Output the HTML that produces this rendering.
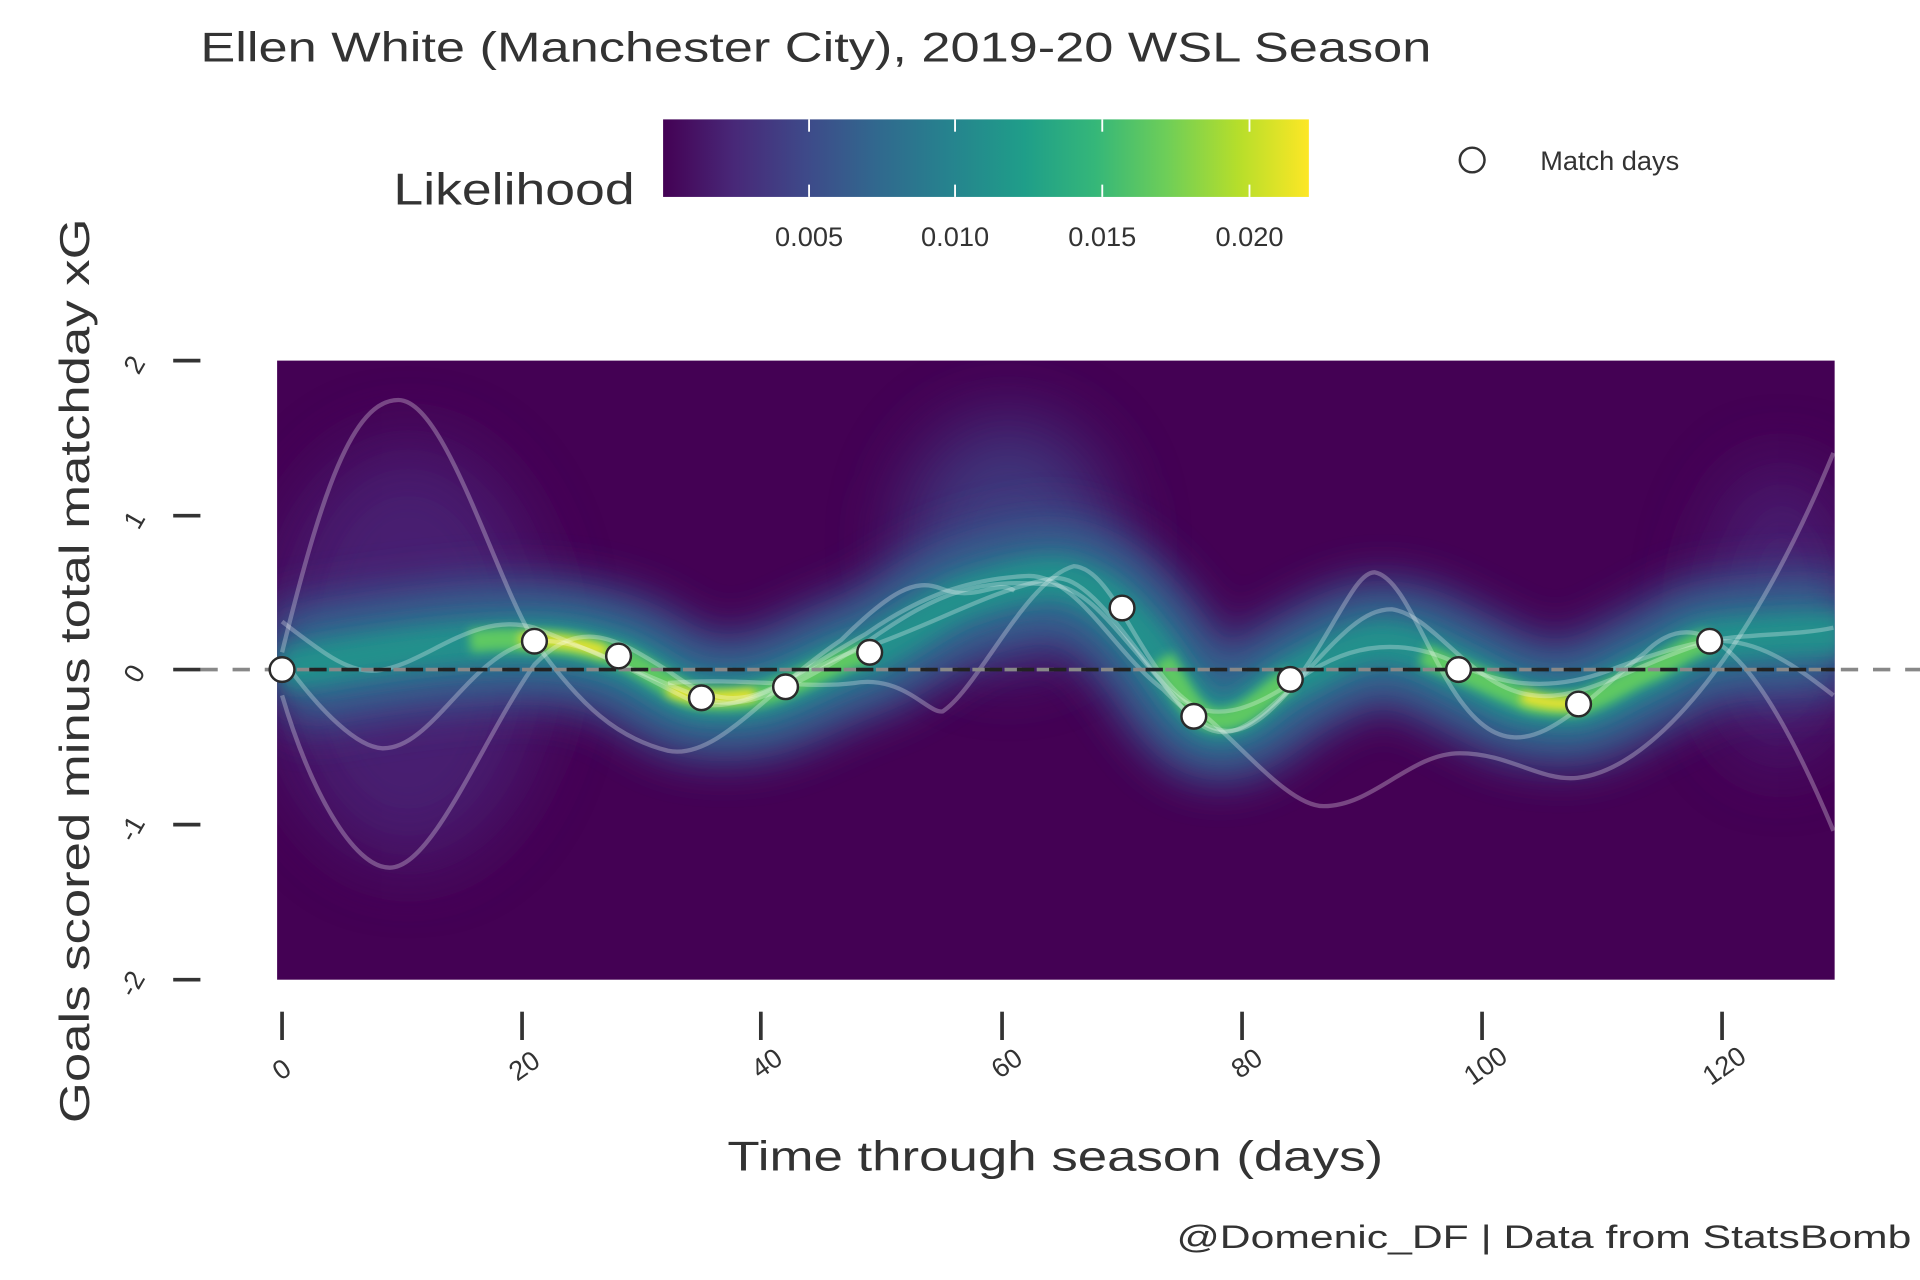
<!DOCTYPE html>
<html><head><meta charset="utf-8"><style>html,body{margin:0;padding:0;background:#fff}svg{display:block}</style></head>
<body>
<svg width="1920" height="1280" viewBox="0 0 1552 1040" preserveAspectRatio="none" xmlns="http://www.w3.org/2000/svg" font-family="Liberation Sans, sans-serif" fill="#333">
<defs>
<linearGradient id="vir" x1="0" x2="1" y1="0" y2="0">
<stop offset="0" stop-color="#440154"/><stop offset="0.11" stop-color="#482878"/><stop offset="0.22" stop-color="#3e4989"/><stop offset="0.33" stop-color="#31688e"/><stop offset="0.44" stop-color="#26828e"/><stop offset="0.56" stop-color="#1f9e89"/><stop offset="0.67" stop-color="#35b779"/><stop offset="0.78" stop-color="#6ece58"/><stop offset="0.89" stop-color="#b5de2b"/><stop offset="1" stop-color="#fde725"/>
</linearGradient>
<clipPath id="cp"><rect x="224" y="293" width="1259" height="503"/></clipPath>
<filter id="b30" filterUnits="userSpaceOnUse" x="0" y="0" width="1552" height="1040"><feGaussianBlur stdDeviation="30"/></filter>
<filter id="b18" filterUnits="userSpaceOnUse" x="0" y="0" width="1552" height="1040"><feGaussianBlur stdDeviation="18"/></filter>
<filter id="b8" filterUnits="userSpaceOnUse" x="0" y="0" width="1552" height="1040"><feGaussianBlur stdDeviation="8"/></filter>
<filter id="b4" filterUnits="userSpaceOnUse" x="0" y="0" width="1552" height="1040"><feGaussianBlur stdDeviation="4"/></filter>
</defs>
<text x="162" y="50" font-size="34" textLength="995" lengthAdjust="spacingAndGlyphs">Ellen White (Manchester City), 2019-20 WSL Season</text>
<text x="318" y="166" font-size="36" textLength="195" lengthAdjust="spacingAndGlyphs">Likelihood</text>
<rect x="536" y="97" width="522" height="63" fill="url(#vir)"/>
<g stroke="#fff" stroke-width="1.5"><line x1="654" y1="97" x2="654" y2="107"/><line x1="654" y1="150" x2="654" y2="160"/><line x1="772" y1="97" x2="772" y2="107"/><line x1="772" y1="150" x2="772" y2="160"/><line x1="891" y1="97" x2="891" y2="107"/><line x1="891" y1="150" x2="891" y2="160"/><line x1="1010" y1="97" x2="1010" y2="107"/><line x1="1010" y1="150" x2="1010" y2="160"/></g>
<g font-size="22" text-anchor="middle"><text x="654" y="200">0.005</text><text x="772" y="200">0.010</text><text x="891" y="200">0.015</text><text x="1010" y="200">0.020</text></g>
<circle cx="1190" cy="130" r="10" fill="#fff" stroke="#333" stroke-width="2"/>
<text x="1245" y="138" font-size="22">Match days</text>

<rect x="224" y="293" width="1259" height="503" fill="#440154"/>
<g clip-path="url(#cp)">
<ellipse cx="815" cy="440" rx="85" ry="100" fill="#3e4989" opacity="0.75" filter="url(#b30)"/>
<ellipse cx="330" cy="530" rx="110" ry="170" fill="#482878" opacity="0.8" filter="url(#b30)"/>
<ellipse cx="1440" cy="500" rx="60" ry="120" fill="#482878" opacity="0.8" filter="url(#b30)"/>
<path id="mean" d="M228,544 C300,530 380,520 432,521 C470,522 480,528 500,533 C530,545 545,565 567,567 C600,570 620,565 635,558 C660,548 680,535 703,530 C740,510 760,492 781,485 C810,475 840,468 859,470 C890,478 905,495 926,520 C950,550 965,585 985,585 C1010,585 1025,560 1043,552 C1070,538 1090,525 1111,522 C1140,520 1160,535 1179,544 C1205,556 1220,568 1237,570 C1255,573 1265,573 1276,572 C1300,565 1315,552 1334,545 C1355,535 1365,524 1382,521 C1420,517 1450,515 1490,515" fill="none" stroke="#3b528b" stroke-width="100" filter="url(#b18)"/>
<path d="M228,544 C300,530 380,520 432,521 C470,522 480,528 500,533 C530,545 545,565 567,567 C600,570 620,565 635,558 C660,548 680,535 703,530 C740,510 760,492 781,485 C810,475 840,468 859,470 C890,478 905,495 926,520 C950,550 965,585 985,585 C1010,585 1025,560 1043,552 C1070,538 1090,525 1111,522 C1140,520 1160,535 1179,544 C1205,556 1220,568 1237,570 C1255,573 1265,573 1276,572 C1300,565 1315,552 1334,545 C1355,535 1365,524 1382,521 C1420,517 1450,515 1490,515" fill="none" stroke="#2c728e" stroke-width="55" filter="url(#b18)"/>
<path d="M228,544 C300,530 380,520 432,521 C470,522 480,528 500,533 C530,545 545,565 567,567 C600,570 620,565 635,558 C660,548 680,535 703,530 C740,510 760,492 781,485 C810,475 840,468 859,470 C890,478 905,495 926,520 C950,550 965,585 985,585 C1010,585 1025,560 1043,552 C1070,538 1090,525 1111,522 C1140,520 1160,535 1179,544 C1205,556 1220,568 1237,570 C1255,573 1265,573 1276,572 C1300,565 1315,552 1334,545 C1355,535 1365,524 1382,521 C1420,517 1450,515 1490,515" fill="none" stroke="#21918c" stroke-width="32" filter="url(#b8)"/>
<path d="M380,521 C410,518 420,520 432,521 C470,522 480,528 500,533 C530,545 545,565 567,567 C600,570 620,565 635,558 C660,548 680,535 703,530 M940,535 C955,560 965,585 985,585 C1010,585 1025,560 1043,552 M1150,532 C1170,540 1205,556 1237,570 C1255,573 1265,573 1276,572 C1300,565 1315,552 1334,545 C1355,535 1365,524 1382,521" fill="none" stroke="#5ec962" stroke-width="18" filter="url(#b4)"/>
<path d="M420,519 C440,520 470,522 490,530 M540,560 C560,568 580,568 610,564 M1230,566 C1250,572 1265,573 1280,570" fill="none" stroke="#fde725" stroke-width="9" filter="url(#b4)"/>
<g fill="none" stroke="#fff" stroke-opacity="0.28" stroke-width="3.5">
<path d="M228,530 C260,400 285,325 322,325 C360,325 400,470 432,521 C470,575 500,600 540,610 C580,618 620,560 680,520 C720,480 740,470 760,478 C790,490 805,470 820,480"/>
<path d="M540,555 C600,550 650,560 690,555 C730,548 750,580 762,578 C790,560 830,470 868,460 C900,462 920,540 960,570 C1000,600 1040,655 1070,655 C1110,655 1140,612 1180,612 C1220,612 1245,635 1275,632 C1340,625 1420,520 1482,368"/>
<path d="M228,565 C250,640 285,705 315,705 C350,705 390,600 432,540 C470,500 500,520 540,545 C600,590 620,560 700,515 C750,480 790,470 830,468 C870,466 900,530 940,560 C980,600 1000,610 1043,560 C1080,510 1095,465 1111,465 C1140,470 1160,560 1200,590 C1240,620 1280,570 1330,530 C1380,480 1430,550 1482,675"/>
<path d="M228,535 C260,580 290,608 310,608 C350,608 380,530 432,521 C470,518 500,540 560,570 C600,585 650,540 703,525 C760,505 800,480 850,470 C880,465 910,520 960,580 C990,610 1010,590 1043,560 C1080,520 1100,495 1125,495 C1160,500 1190,560 1240,565 C1280,570 1320,540 1382,521 C1420,518 1450,540 1482,565"/>
<path d="M228,505 C260,530 280,545 300,545 C340,545 380,495 432,510 C470,525 500,540 567,567 C600,580 640,560 703,520 C760,480 790,470 850,475 C880,478 900,510 940,555 C980,600 1020,570 1060,545 C1100,520 1140,520 1180,540 C1220,560 1260,560 1300,545 C1340,530 1370,521 1400,518 C1430,515 1460,515 1482,510"/>
</g>
</g>
<line x1="162" y1="544" x2="1552" y2="544" stroke="#888" stroke-width="3" stroke-dasharray="14,12"/>
<line x1="224" y1="544" x2="1483" y2="544" stroke="#222" stroke-width="3" stroke-dasharray="14,12"/>
<g fill="#fff" stroke="#2a2a2a" stroke-width="2">
<circle cx="228" cy="544" r="10"/><circle cx="432" cy="521" r="10"/><circle cx="500" cy="533" r="10"/><circle cx="567" cy="567" r="10"/><circle cx="635" cy="558" r="10"/><circle cx="703" cy="530" r="10"/><circle cx="907" cy="494" r="10"/><circle cx="965" cy="582" r="10"/><circle cx="1043" cy="552" r="10"/><circle cx="1179" cy="544" r="10"/><circle cx="1276" cy="572" r="10"/><circle cx="1382" cy="521" r="10"/>
</g>
<g stroke="#333" stroke-width="3">
<line x1="140" y1="293" x2="162" y2="293"/><line x1="140" y1="419" x2="162" y2="419"/><line x1="140" y1="544" x2="162" y2="544"/><line x1="140" y1="670" x2="162" y2="670"/><line x1="140" y1="796" x2="162" y2="796"/>
<line x1="228" y1="822" x2="228" y2="845"/><line x1="422" y1="822" x2="422" y2="845"/><line x1="615" y1="822" x2="615" y2="845"/><line x1="810" y1="822" x2="810" y2="845"/><line x1="1004" y1="822" x2="1004" y2="845"/><line x1="1198" y1="822" x2="1198" y2="845"/><line x1="1392" y1="822" x2="1392" y2="845"/>
</g>
<g font-size="22" text-anchor="middle">
<text transform="translate(115,300) rotate(-60)">2</text><text transform="translate(115,426) rotate(-60)">1</text><text transform="translate(115,551) rotate(-60)">0</text><text transform="translate(113,677) rotate(-60)">-1</text><text transform="translate(113,803) rotate(-60)">-2</text>
<text transform="translate(232,875) rotate(-35)">0</text><text transform="translate(428,872) rotate(-35)">20</text><text transform="translate(624,870) rotate(-35)">40</text><text transform="translate(818,870) rotate(-35)">60</text><text transform="translate(1012,870) rotate(-35)">80</text><text transform="translate(1205,872) rotate(-35)">100</text><text transform="translate(1398,872) rotate(-35)">120</text>
</g>
<text x="853" y="951" font-size="34" text-anchor="middle" textLength="530" lengthAdjust="spacingAndGlyphs">Time through season (days)</text>
<text transform="translate(72,545) rotate(-90)" font-size="34" text-anchor="middle" textLength="735" lengthAdjust="spacingAndGlyphs">Goals scored minus total matchday xG</text>
<text x="1545" y="1014" font-size="26" text-anchor="end" textLength="594" lengthAdjust="spacingAndGlyphs">@Domenic_DF  |  Data from StatsBomb</text>
</svg>
</body></html>
